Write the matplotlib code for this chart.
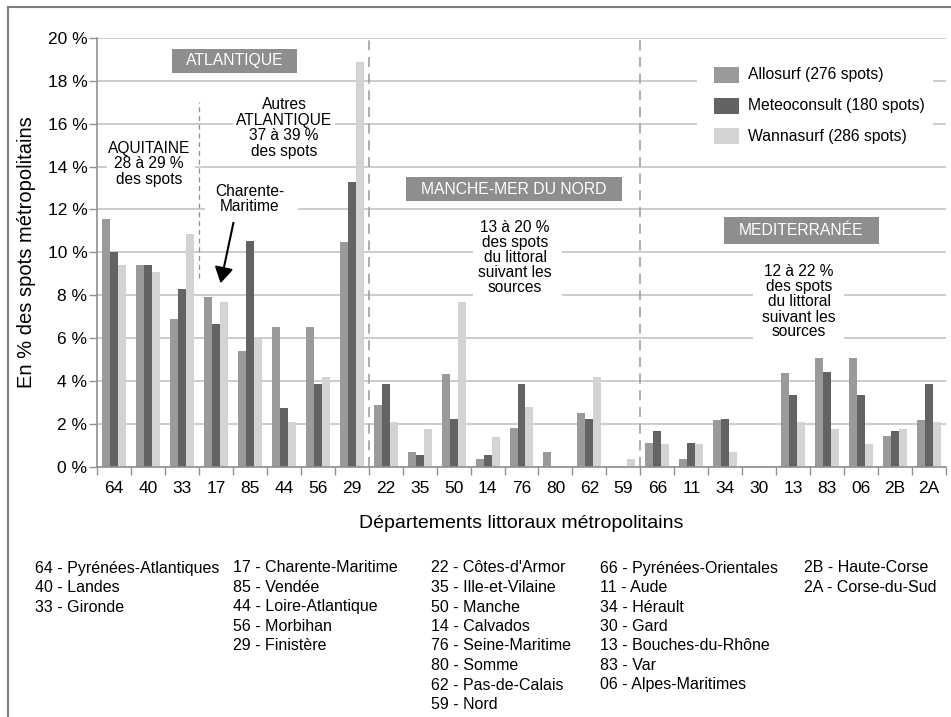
import matplotlib
matplotlib.use("Agg")
import matplotlib.pyplot as plt
from matplotlib.patches import Rectangle, FancyArrowPatch
from matplotlib.lines import Line2D

plt.rcParams['font.family'] = ['Liberation Sans', 'DejaVu Sans']

departements = ["64", "40", "33", "17", "85", "44", "56", "29",
                "22", "35", "50", "14", "76", "80", "62", "59",
                "66", "11", "34", "30", "13", "83", "06", "2B", "2A"]
allosurf = [11.55, 9.4, 6.9, 7.9, 5.4, 6.5, 6.5, 10.5,
            2.87, 0.70, 4.33, 0.37, 1.81, 0.70, 2.50, 0.0,
            1.09, 0.37, 2.18, 0.0, 4.35, 5.09, 5.09, 1.42, 2.18]
meteoconsult = [10.0, 9.4, 8.3, 6.66, 10.55, 2.75, 3.88, 13.3,
                3.88, 0.55, 2.22, 0.55, 3.88, 0.0, 2.22, 0.0,
                1.67, 1.11, 2.22, 0.0, 3.35, 4.42, 3.35, 1.67, 3.88]
wannasurf = [9.4, 9.09, 10.84, 7.69, 5.94, 2.1, 4.2, 18.88,
             2.1, 1.75, 7.69, 1.4, 2.8, 0.0, 4.2, 0.35,
             1.05, 1.05, 0.7, 0.0, 2.1, 1.75, 1.05, 1.75, 2.1]
series_names = ["Allosurf (276 spots)", "Meteoconsult (180 spots)", "Wannasurf (286 spots)"]
series_colors = ["#9a9a9a", "#636363", "#d3d3d3"]
y_ticks = [0, 2, 4, 6, 8, 10, 12, 14, 16, 18, 20]

legend_cols = [
    ["64 - Pyrénées-Atlantiques", "40 - Landes", "33 - Gironde"],
    ["17 - Charente-Maritime", "85 - Vendée", "44 - Loire-Atlantique", "56 - Morbihan", "29 - Finistère"],
    ["22 - Côtes-d'Armor", "35 - Ille-et-Vilaine", "50 - Manche", "14 - Calvados",
     "76 - Seine-Maritime", "80 - Somme", "62 - Pas-de-Calais", "59 - Nord"],
    ["66 - Pyrénées-Orientales", "11 - Aude", "34 - Hérault", "30 - Gard",
     "13 - Bouches-du-Rhône", "83 - Var", "06 - Alpes-Maritimes"],
    ["2B - Haute-Corse", "2A - Corse-du-Sud"],
]

W, H = 951, 717
fig = plt.figure(figsize=(W / 100, H / 100), dpi=100)

def fx(px):
    return px / W

def fy(py):
    return 1 - py / H

ax_l, ax_r, ax_b, ax_t = 97, 946, 466.7, 38
ax = fig.add_axes([fx(ax_l), fy(ax_b), (ax_r - ax_l) / W, (ax_b - ax_t) / H])

n = len(departements)
x = list(range(n))
bw = 0.235
for k, (vals, col) in enumerate(zip([allosurf, meteoconsult, wannasurf], series_colors)):
    ax.bar([i + (k - 1) * bw for i in x], vals, width=bw, color=col, zorder=2, linewidth=0)

ax.set_xlim(-0.5, n - 0.5)
ax.set_ylim(0, 20)
ax.set_yticks(y_ticks)
ax.set_yticklabels([f"{v} %" for v in y_ticks], fontsize=12.5)
ax.set_xticks(x)
ax.set_xticklabels(departements, fontsize=12.5)
ax.set_xticks([i - 0.5 for i in range(n + 1)], minor=True)
ax.tick_params(axis='x', which='major', length=0, pad=10)
ax.tick_params(axis='x', which='minor', length=6, color="#909090", width=1)
ax.tick_params(axis='y', length=6, color="#909090", width=1, pad=1)
ax.grid(axis='y', color="#c4c4c4", linewidth=1.2, zorder=0.5)
ax.set_axisbelow(True)
for s in ['top', 'right']:
    ax.spines[s].set_visible(False)
for s in ['left', 'bottom']:
    ax.spines[s].set_color("#909090")
    ax.spines[s].set_linewidth(1.2)

ax.set_ylabel("En % des spots métropolitains", fontsize=14.5, labelpad=8)
ax.set_xlabel("Départements littoraux métropolitains", fontsize=14, labelpad=14)

# region separators
for xv in [7.5, 15.5]:
    ax.axvline(xv, color="#a0a0a0", linewidth=1.2, linestyle=(0, (6, 4)), zorder=1.5)
ax.plot([2.5, 2.5], [8.8, 17.0], color="#909090", linewidth=0.9, linestyle=(0, (4, 3)), zorder=1.5)

# white masks breaking gridlines behind annotations
def mask(x0, y0, x1, y1):
    r = Rectangle((fx(x0), fy(y1)), fx(x1) - fx(x0), fy(y0) - fy(y1), transform=fig.transFigure,
                  facecolor="white", edgecolor="none", zorder=1)
    ax.add_artist(r)

mask(107, 136, 195, 192)
mask(233, 92, 335, 163)
mask(205, 180, 298, 218)
mask(473, 212, 562, 302)
mask(753, 262, 844, 345)
mask(697, 58, 933, 150)

def region_box(x0, y0, x1, y1, label):
    r = Rectangle((fx(x0), fy(y1)), fx(x1) - fx(x0), fy(y0) - fy(y1), transform=fig.transFigure,
                  facecolor="#8e8e8e", edgecolor="none", zorder=3)
    ax.add_artist(r)
    fig.text(fx((x0 + x1) / 2), fy((y0 + y1) / 2), label, color="white", fontsize=11.3,
             ha="center", va="center", zorder=4)

region_box(172, 49, 297, 73, "ATLANTIQUE")
region_box(406, 177, 622, 201, "MANCHE-MER DU NORD")
region_box(724, 217, 879, 244, "MEDITERRANÉE")

def note(xc, yc, s, ls=1.05):
    fig.text(fx(xc), fy(yc), s, fontsize=11.2, ha="center", va="center", linespacing=ls, zorder=4)

note(149, 164, "AQUITAINE\n28 à 29 %\ndes spots")
note(284, 128, "Autres\nATLANTIQUE\n37 à 39 %\ndes spots")
note(250, 199, "Charente-\nMaritime")
note(515, 258, "13 à 20 %\ndes spots\ndu littoral\nsuivant les\nsources", ls=1.0)
note(799, 302, "12 à 22 %\ndes spots\ndu littoral\nsuivant les\nsources", ls=1.0)

arr = FancyArrowPatch((fx(234), fy(220)), (fx(220), fy(286)), transform=fig.transFigure,
                      arrowstyle="-|>,head_length=6,head_width=3.5", color="black", linewidth=1.5,
                      mutation_scale=1.6)
fig.add_artist(arr)

# legend
for k, (name, col) in enumerate(zip(series_names, series_colors)):
    yc = 75 + 30.5 * k
    r = Rectangle((fx(714), fy(yc + 8)), fx(739) - fx(714), fy(yc - 8) - fy(yc + 8),
                  transform=fig.transFigure, facecolor=col, edgecolor="none", zorder=4)
    fig.add_artist(r)
    fig.text(fx(748), fy(yc), name, fontsize=11.3, ha="left", va="center")

# department list
col_x = [35, 233, 431, 600, 804]
for cx, items in zip(col_x, legend_cols):
    for j, item in enumerate(items):
        fig.text(fx(cx), fy(568 + 19.5 * j), item, fontsize=11.5, ha="left", va="center")

# outer frame
fig.add_artist(Line2D([fx(8), fx(8)], [fy(7), 0], transform=fig.transFigure, color="#808080", linewidth=1.5))
fig.add_artist(Line2D([fx(8), 1], [fy(7), fy(7)], transform=fig.transFigure, color="#808080", linewidth=1.5))

fig.savefig("out.png", dpi=100)
